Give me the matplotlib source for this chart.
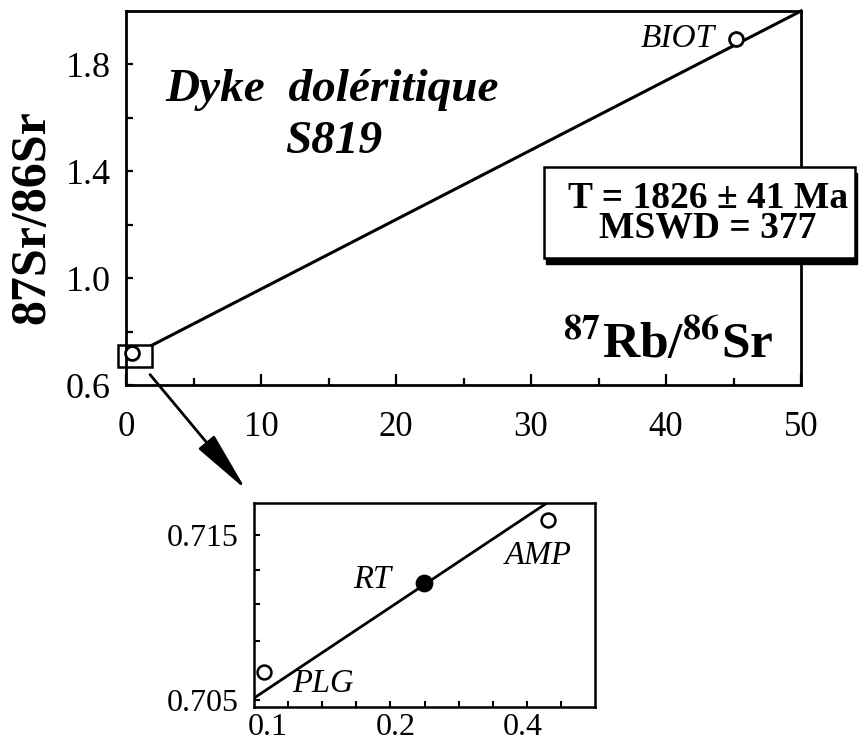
import matplotlib
matplotlib.use("Agg")
import matplotlib.pyplot as plt
from matplotlib.patches import Rectangle

plt.rcParams['font.family'] = ['Liberation Serif', 'DejaVu Serif']
plt.rcParams['mathtext.fontset'] = 'stix'

# main isochron (87Rb/86Sr vs 87Sr/86Sr)
main_x = [0.44, 45.2]
main_y = [0.721, 1.895]
main_names = ['', 'BIOT']
main_line_x = [1.93, 50.0]
main_line_y = [0.749, 2.0]
zoom_box_x = [-0.59, 1.93]
zoom_box_y = [0.667, 0.749]

main_xticks = [0, 10, 20, 30, 40, 50]
main_xminor = [5, 15, 25, 35, 45]
main_yticks = [0.6, 1.0, 1.4, 1.8]
main_yminor = [0.8, 1.2, 1.6]

# enlarged view near the origin
inset_x = [0.098, 0.233, 0.458]
inset_y = [0.7067, 0.7121, 0.7159]
inset_names = ['PLG', 'RT', 'AMP']
inset_filled = [False, True, False]
inset_line_x = [0.0926, 0.455]
inset_line_y = [0.70512, 0.71694]
inset_xticks = [0.1, 0.2, 0.4]
inset_xticklabels = ['0.1', '0.2', '0.4']
inset_yticks = [0.705, 0.715]
inset_yminor = [0.7086, 0.7108, 0.7129]

W, H = 861, 746
fig = plt.figure(figsize=(W / 100, H / 100), dpi=100)

def px_axes(l, t, r, b):
    return fig.add_axes([l / W, 1 - b / H, (r - l) / W, (b - t) / H])

# ---- main panel
ax = px_axes(126, 11, 801, 385)
ax.plot(main_line_x, main_line_y, color='black', lw=2.2, clip_on=False, zorder=2)
ax.plot(main_x, main_y, 'o', ms=10, mfc='white', mec='black', mew=2.0,
        clip_on=False, zorder=3)
ax.add_patch(Rectangle((zoom_box_x[0], zoom_box_y[0]),
                       zoom_box_x[1] - zoom_box_x[0], zoom_box_y[1] - zoom_box_y[0],
                       fill=False, ec='black', lw=1.8, clip_on=False, zorder=3))
ax.annotate(main_names[1], (main_x[1], main_y[1]), xytext=(-58, 0),
            textcoords='offset pixels', ha='center', va='center',
            fontsize=24, style='italic')

ax.set_xlim(0, 50)
ax.set_ylim(0.6, 2.0)
ax.set_xticks(main_xticks)
ax.set_xticks(main_xminor, minor=True)
ax.set_yticks(main_yticks)
ax.set_yticks(main_yminor, minor=True)
ax.set_yticklabels(['%.1f' % v for v in main_yticks])
ax.tick_params(axis='x', which='major', direction='in', length=8, width=1.6,
               labelsize=25, pad=19)
ax.tick_params(axis='x', which='minor', direction='in', length=5, width=1.6)
ax.tick_params(axis='y', which='both', direction='in', length=5, width=1.6,
               labelsize=26, pad=11)
for s in ax.spines.values():
    s.set_linewidth(2.0)

ax.text(15.3, 1.662, 'Dyke  doléritique', ha='center', va='baseline',
        fontsize=34, weight='bold', style='italic')
ax.text(15.4, 1.469, 'S819', ha='center', va='baseline',
        fontsize=34, weight='bold', style='italic')
ax.text(40.15, 0.702, r'$\mathbf{^{87}}$Rb/$\mathbf{^{86}}$Sr', ha='center',
        va='baseline', fontsize=37, weight='bold')

fig.text(32 / W, 1 - 217 / H, '87Sr/86Sr', rotation=90, ha='center', va='center',
         fontsize=36, weight='bold')

# result box with shadow
bx0, by0, bx1, by1 = 544, 167, 855, 258
fig.patches.append(Rectangle((bx0 / W + 2 / W, 1 - by1 / H - 6 / H), (bx1 - bx0) / W,
                             (by1 - by0) / H, transform=fig.transFigure,
                             fc='black', ec='black', zorder=5))
fig.patches.append(Rectangle((bx0 / W, 1 - by1 / H), (bx1 - bx0) / W,
                             (by1 - by0) / H, transform=fig.transFigure,
                             fc='white', ec='black', lw=1.8, zorder=6))
fig.text(708 / W, 1 - 238 / H, 'T = 1826 ± 41 Ma\nMSWD = 377', ha='center',
         va='baseline', multialignment='center', linespacing=0.82,
         fontsize=27, weight='bold', zorder=7)

# ---- inset
ins = px_axes(254, 503, 595, 707)
ins.set_xscale('log')
ins.plot(inset_line_x, inset_line_y, color='black', lw=2.0, zorder=2)
offsets = {'PLG': (58, -12), 'RT': (-52, 3), 'AMP': (-10, -36)}
for x, y, name, filled in zip(inset_x, inset_y, inset_names, inset_filled):
    ins.plot(x, y, 'o', ms=11 if filled else 10, mfc='black' if filled else 'white',
             mec='black', mew=1.8, clip_on=False, zorder=3)
    ins.annotate(name, (x, y), xytext=offsets[name], textcoords='offset pixels',
                 ha='center', va='center', fontsize=23.5, style='italic')

xmin, xmax = 0.0926, 0.591
ins.set_xlim(xmin, xmax)
ins.set_ylim(0.70458, 0.71694)
ins.set_xticks(inset_xticks)
ins.set_xticklabels(inset_xticklabels)
ratio = (xmax / xmin) ** 0.1
ins.set_xticks([xmin * ratio ** k for k in range(1, 10)], minor=True)
ins.xaxis.set_minor_formatter(plt.NullFormatter())
ins.set_yticks(inset_yticks)
ins.set_yticklabels(['%.3f' % v for v in inset_yticks])
ins.set_yticks(inset_yminor, minor=True)
ins.tick_params(axis='x', which='major', direction='in', length=0, labelsize=23, pad=4)
ins.tick_params(axis='x', which='minor', direction='in', length=4, width=1.5)
ins.tick_params(axis='y', which='both', direction='in', length=4, width=1.5,
                labelsize=23, pad=11)
for s in ins.spines.values():
    s.set_linewidth(1.8)

# arrow from the zoom box to the inset
ins.annotate('', xy=(-0.023, 1.064), xycoords='axes fraction',
             xytext=(1.78, 0.639), textcoords=ax.transData,
             arrowprops=dict(arrowstyle='-|>,head_length=1.9,head_width=0.32',
                             color='black', lw=2.0, mutation_scale=20,
                             shrinkA=0, shrinkB=0),
             annotation_clip=False)

fig.savefig('out.png', dpi=100)
